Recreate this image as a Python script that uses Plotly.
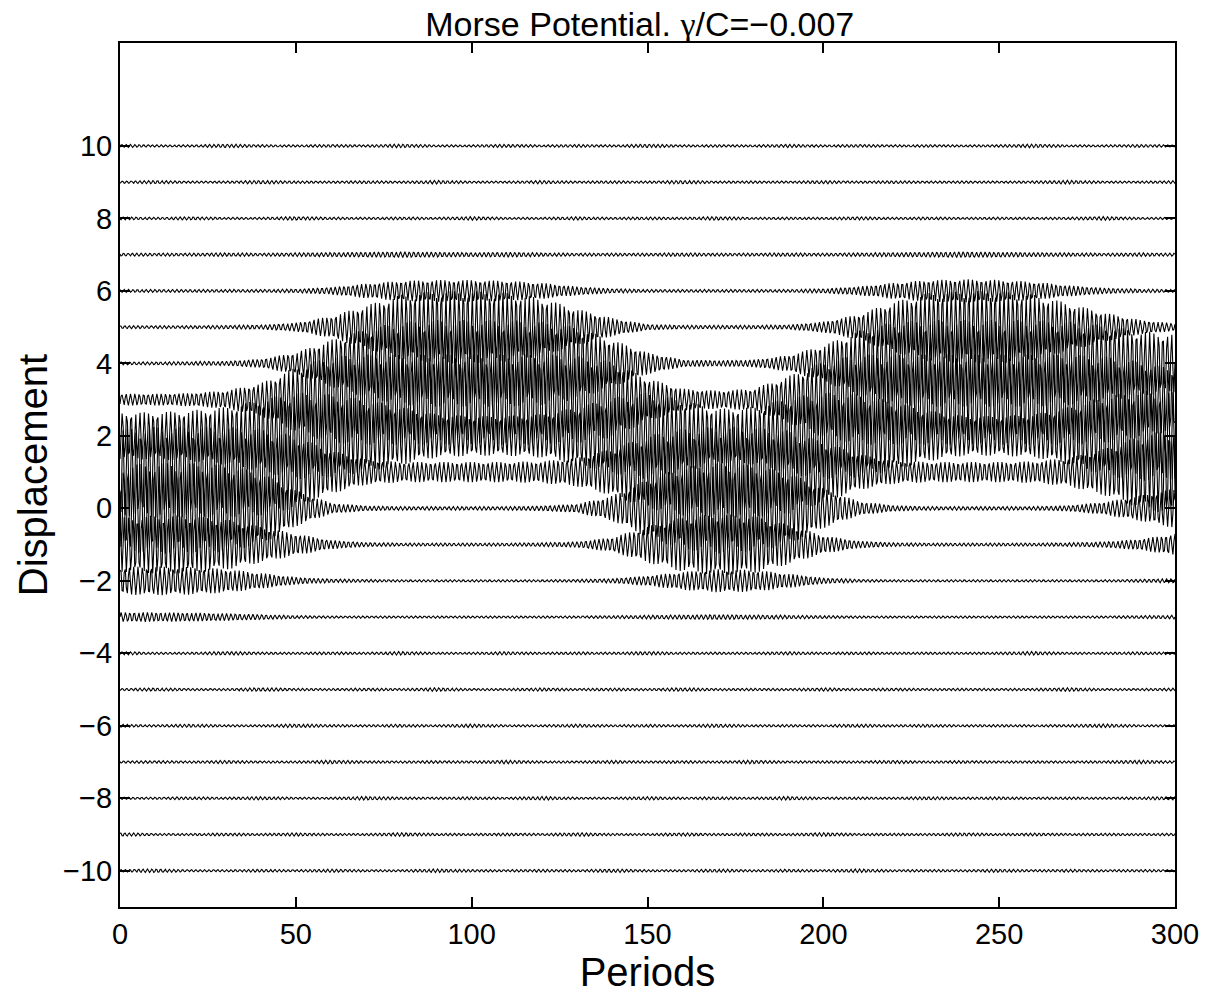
import numpy as np
import plotly.graph_objects as go

# envelope sample times (periods) and per-site oscillation amplitudes
SAMPLE_T = list(range(0, 301, 10))
SITES = list(range(-10, 11))

AMP = {
    -3: [0.13, 0.13, 0.12, 0.10, 0.07, 0.04, 0.03, 0.03, 0.03, 0.03, 0.03, 0.03, 0.03, 0.03, 0.04, 0.05,
         0.06, 0.07, 0.06, 0.05, 0.04, 0.03, 0.03, 0.03, 0.03, 0.03, 0.03, 0.03, 0.03, 0.04, 0.05],
    -2: [0.38, 0.40, 0.38, 0.33, 0.22, 0.10, 0.05, 0.04, 0.03, 0.03, 0.03, 0.03, 0.03, 0.04, 0.06, 0.14,
         0.25, 0.32, 0.30, 0.20, 0.08, 0.04, 0.03, 0.03, 0.03, 0.03, 0.03, 0.03, 0.03, 0.04, 0.06],
    -1: [0.75, 0.80, 0.80, 0.70, 0.50, 0.30, 0.12, 0.06, 0.04, 0.04, 0.04, 0.04, 0.05, 0.08, 0.20, 0.50,
         0.75, 0.85, 0.80, 0.55, 0.25, 0.10, 0.05, 0.04, 0.04, 0.04, 0.04, 0.05, 0.08, 0.15, 0.30],
    0: [1.20, 1.25, 1.25, 1.20, 1.00, 0.50, 0.15, 0.07, 0.05, 0.05, 0.05, 0.05, 0.07, 0.12, 0.35, 0.80,
        1.15, 1.25, 1.20, 1.00, 0.55, 0.20, 0.08, 0.05, 0.05, 0.05, 0.05, 0.08, 0.18, 0.35, 0.55],
    1: [1.20, 1.25, 1.25, 1.25, 1.20, 1.00, 0.60, 0.35, 0.28, 0.28, 0.28, 0.28, 0.30, 0.40, 0.65, 1.00,
        1.20, 1.25, 1.25, 1.15, 0.85, 0.50, 0.32, 0.28, 0.28, 0.28, 0.30, 0.40, 0.65, 1.00, 1.20],
    2: [0.65, 0.65, 0.70, 0.80, 1.00, 1.20, 1.15, 1.00, 0.80, 0.60, 0.55, 0.55, 0.60, 0.80, 1.05, 1.20,
        1.00, 0.75, 0.80, 1.05, 1.20, 1.15, 0.95, 0.70, 0.55, 0.55, 0.60, 0.80, 1.10, 1.25, 1.20],
    3: [0.16, 0.16, 0.18, 0.25, 0.45, 0.90, 1.20, 1.25, 1.25, 1.25, 1.25, 1.25, 1.25, 1.20, 1.05, 0.60,
        0.30, 0.25, 0.30, 0.65, 1.05, 1.25, 1.25, 1.25, 1.25, 1.25, 1.25, 1.25, 1.20, 1.05, 0.85],
    4: [0.04, 0.04, 0.05, 0.06, 0.12, 0.30, 0.65, 0.95, 1.15, 1.20, 1.20, 1.20, 1.15, 1.00, 0.65, 0.30,
        0.10, 0.08, 0.10, 0.22, 0.50, 0.90, 1.15, 1.20, 1.20, 1.20, 1.20, 1.15, 1.05, 0.90, 0.80],
    5: [0.04, 0.04, 0.04, 0.05, 0.06, 0.12, 0.30, 0.60, 0.90, 1.00, 1.00, 0.95, 0.80, 0.50, 0.25, 0.08,
        0.05, 0.05, 0.05, 0.06, 0.15, 0.35, 0.70, 0.95, 1.00, 1.00, 0.90, 0.65, 0.40, 0.20, 0.10],
    6: [0.04, 0.04, 0.04, 0.04, 0.04, 0.05, 0.10, 0.20, 0.28, 0.30, 0.30, 0.28, 0.22, 0.12, 0.06, 0.04,
        0.04, 0.04, 0.04, 0.04, 0.06, 0.12, 0.22, 0.30, 0.32, 0.30, 0.25, 0.15, 0.08, 0.05, 0.04],
    7: [0.04, 0.04, 0.04, 0.05, 0.04, 0.05, 0.06, 0.07, 0.08, 0.07, 0.06, 0.07, 0.05, 0.04, 0.04, 0.04,
        0.05, 0.04, 0.04, 0.05, 0.04, 0.05, 0.06, 0.07, 0.08, 0.07, 0.06, 0.05, 0.04, 0.05, 0.04],
}

# small background wiggle on the far sites, with the occasional burst
QUIET_AMP = [0.035, 0.05, 0.03, 0.03, 0.04, 0.03, 0.045, 0.03, 0.03, 0.05, 0.035, 0.03, 0.04, 0.03, 0.05, 0.03,
             0.03, 0.045, 0.03, 0.04, 0.03, 0.05, 0.03, 0.035, 0.03, 0.045, 0.03, 0.04, 0.03, 0.035, 0.03]

X_TICKS = [0, 50, 100, 150, 200, 250, 300]
Y_TICKS = [-10, -8, -6, -4, -2, 0, 2, 4, 6, 8, 10]

t = np.arange(0, 300.001, 0.3)
fig = go.Figure()
for i, n in enumerate(SITES):
    amps = AMP.get(n, QUIET_AMP[i % 7:] + QUIET_AMP[:i % 7])
    env = np.interp(t, SAMPLE_T, amps)
    y = n + env * np.sin(2 * np.pi * 0.8 * t + 0.9 * i)
    fig.add_trace(go.Scatter(x=t, y=y, mode="lines", line=dict(color="black", width=1.1),
                             showlegend=False, hoverinfo="skip"))

font = "Liberation Sans, Arial, Helvetica, sans-serif"
axis = dict(showline=True, linecolor="black", linewidth=2, mirror="ticks", ticks="inside",
            ticklen=10, tickwidth=1.5, tickcolor="black", showgrid=False, zeroline=False,
            automargin=False, tickfont=dict(size=29, color="black", family=font))

# the page body adds an 8px offset, so margins are shifted to land the axes where the reference has them
fig.update_layout(
    width=1208, height=993, autosize=False,
    margin=dict(l=112, r=41, t=35, b=94),
    paper_bgcolor="white", plot_bgcolor="white",
    title=dict(text='Morse Potential. <span style="font-family:Liberation Serif">γ</span>/C=−0.007',
               x=0.523, xanchor="center", y=0.984, yanchor="middle",
               font=dict(size=34, color="black", family=font)),
    xaxis=dict(axis, range=[0, 300], tickvals=X_TICKS,
               title=dict(text="Periods", standoff=0, font=dict(size=40, color="black", family=font))),
    yaxis=dict(axis, range=[-11, 12.84], tickvals=Y_TICKS,
               title=dict(text="Displacement", standoff=3, font=dict(size=40, color="black", family=font))),
)

fig.write_html("out.html")
